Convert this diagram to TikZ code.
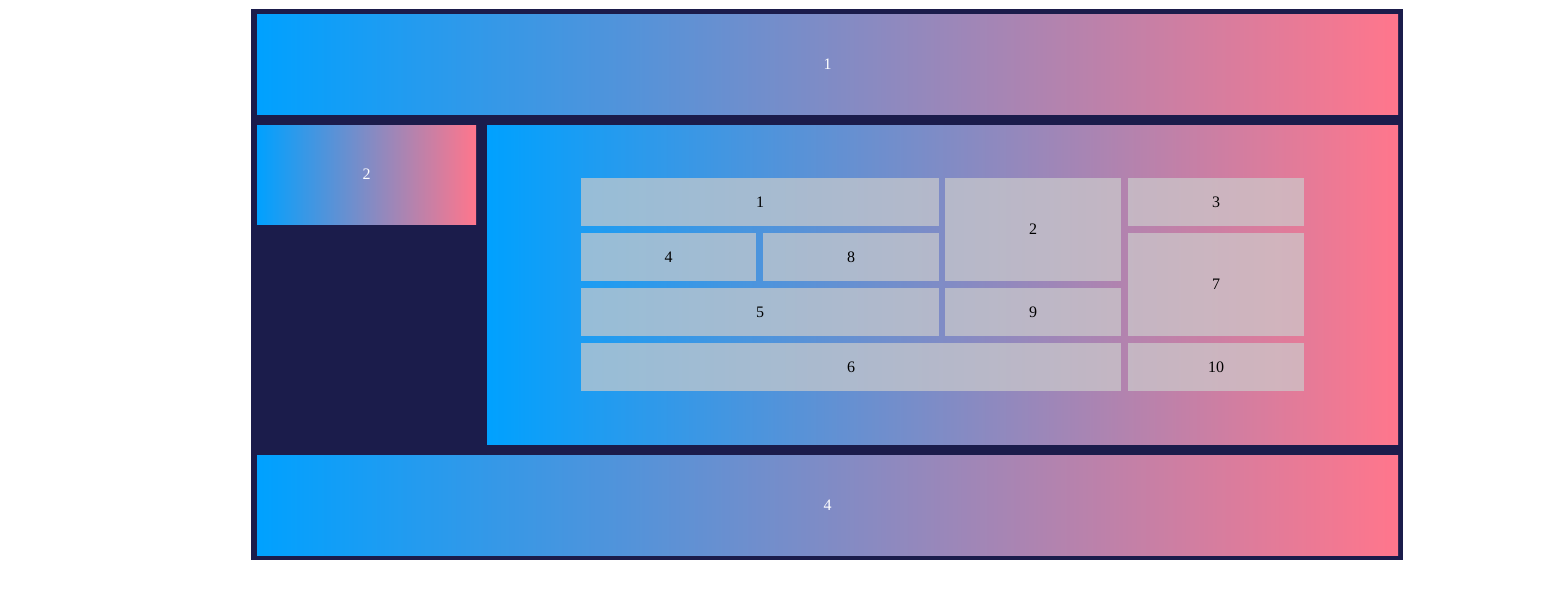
\documentclass[tikz,border=0pt]{standalone}
\usepackage{fontspec}
\setmainfont{Liberation Serif}
\definecolor{dk}{RGB}{27,28,75}
\definecolor{gA}{RGB}{0,161,255}
\definecolor{gB}{RGB}{255,118,140}
\definecolor{cl}{RGB}{204,204,204}
\tikzset{
  gbox/.style={rectangle, inner sep=0pt, left color=gA, right color=gB, text=white, font=\fontsize{12}{14}\selectfont},
  cellbox/.style={rectangle, inner sep=0pt, fill=cl, fill opacity=0.7, text opacity=1, text=black, font=\fontsize{12}{14}\selectfont},
  frame/.style={rectangle, inner sep=0pt, fill=dk}
}
% \mkbox{style}{name}{x1}{y1}{x2}{y2}{label}
\newcommand\mkbox[7]{%
  \node[#1, minimum width={(#5-#3)*0.75pt}, minimum height={(#6-#4)*0.75pt}] (#2) at ({(#3+#5)/2},{(#4+#6)/2}) {#7};}
\begin{document}
\begin{tikzpicture}[x=0.75pt,y=-0.75pt]
\useasboundingbox (0,0) rectangle (1553,594);
\mkbox{frame}{outer}{251}{9}{1403}{560}{}
\mkbox{gbox}{b1}{257}{14}{1398}{114}{1}
\mkbox{gbox}{b2}{257}{125}{476}{224}{2}
\mkbox{gbox}{main}{487}{125}{1398}{444}{}
\mkbox{gbox}{b4}{257}{455}{1398}{555}{4}
% inner grid
\mkbox{cellbox}{c1}{581}{178}{939}{226}{1}
\mkbox{cellbox}{c2}{945}{178}{1121}{281}{2}
\mkbox{cellbox}{c3}{1128}{178}{1304}{226}{3}
\mkbox{cellbox}{c4}{581}{233}{756}{281}{4}
\mkbox{cellbox}{c8}{763}{233}{939}{281}{8}
\mkbox{cellbox}{c7}{1128}{233}{1304}{336}{7}
\mkbox{cellbox}{c5}{581}{288}{939}{336}{5}
\mkbox{cellbox}{c9}{945}{288}{1121}{336}{9}
\mkbox{cellbox}{c6}{581}{343}{1121}{391}{6}
\mkbox{cellbox}{c10}{1128}{343}{1304}{391}{10}
\end{tikzpicture}
\end{document}
